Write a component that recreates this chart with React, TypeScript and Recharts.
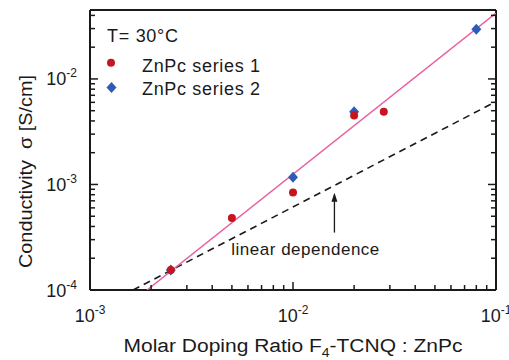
import { ComposedChart, Scatter, XAxis, YAxis } from "recharts";

const W = 509;
const H = 360;
// plot frame in pixels (margins below are derived from it)
const PLOT = { left: 90, right: 496, top: 10, bottom: 290 };
const FONT = '"Liberation Sans", Arial, Helvetica, sans-serif';
const INK = "#1a1a1a";
const RED = "#c8141f";
const BLUE = "#2c5cb8";
const PINK = "#e8609f";

const X_DOMAIN = [1e-3, 1e-1];
const Y_DOMAIN = [1e-4, 4.5e-2];
const X_TICKS = [
  1e-3, 2e-3, 3e-3, 4e-3, 5e-3, 6e-3, 7e-3, 8e-3, 9e-3,
  1e-2, 2e-2, 3e-2, 4e-2, 5e-2, 6e-2, 7e-2, 8e-2, 9e-2, 1e-1,
];
const Y_TICKS = [
  1e-4, 2e-4, 3e-4, 4e-4, 5e-4, 6e-4, 7e-4, 8e-4, 9e-4,
  1e-3, 2e-3, 3e-3, 4e-3, 5e-3, 6e-3, 7e-3, 8e-3, 9e-3,
  1e-2, 2e-2, 3e-2, 4e-2,
];

// measured points
const S1_X = [2.5e-3, 5e-3, 1e-2, 2e-2, 2.8e-2];
const S1_Y = [1.55e-4, 4.8e-4, 8.4e-4, 4.5e-3, 4.9e-3];
const S2_X = [2.5e-3, 1e-2, 2e-2, 8e-2];
const S2_Y = [1.55e-4, 1.17e-3, 4.9e-3, 2.95e-2];

// power-law fit and slope-1 reference
const FIT_X = [1.91e-3, 1e-1];
const FIT_Y = [1e-4, 4.2e-2];
const LIN_X = [1.63e-3, 1e-1];
const LIN_Y = [1e-4, 6.1e-3];

// annotation
const ARROW_X = [1.6e-2, 1.6e-2];
const ARROW_Y = [3.5e-4, 8.0e-4];
const NOTE_X = [1.15e-2];
const NOTE_Y = [2.16e-4];
const NOTE_TEXT = "linear dependence";

const pts = (xs: number[], ys: number[]) => xs.map((x, i) => ({ x, y: ys[i] }));

const isMajor = (v: number) => Math.abs(Math.log10(v) - Math.round(Math.log10(v))) < 1e-6;
const exp = (v: number) => String(Math.round(Math.log10(v)));

function BottomTick(p: any) {
  const v = p.payload.value;
  const major = isMajor(v);
  return (
    <g>
      <line x1={p.x} x2={p.x} y1={PLOT.bottom} y2={PLOT.bottom - (major ? 8 : 5)} stroke={INK} strokeWidth={1.5} />
      {major && (
        <text x={p.x} y={322} textAnchor="middle" fontSize={18} fill={INK} fontFamily={FONT}>
          10
          <tspan dy={-8} fontSize={12}>{exp(v)}</tspan>
        </text>
      )}
    </g>
  );
}

function TopTick(p: any) {
  const major = isMajor(p.payload.value);
  return <line x1={p.x} x2={p.x} y1={PLOT.top} y2={PLOT.top + (major ? 8 : 5)} stroke={INK} strokeWidth={1.5} />;
}

function LeftTick(p: any) {
  const v = p.payload.value;
  const major = isMajor(v);
  return (
    <g>
      <line x1={PLOT.left} x2={PLOT.left + (major ? 8 : 5)} y1={p.y} y2={p.y} stroke={INK} strokeWidth={1.5} />
      {major && (
        <text x={77} y={p.y + 6.5} textAnchor="end" fontSize={18} fill={INK} fontFamily={FONT}>
          10
          <tspan dy={-8} fontSize={12}>{exp(v)}</tspan>
        </text>
      )}
    </g>
  );
}

function RightTick(p: any) {
  const major = isMajor(p.payload.value);
  return <line x1={PLOT.right} x2={PLOT.right - (major ? 8 : 5)} y1={p.y} y2={p.y} stroke={INK} strokeWidth={1.5} />;
}

const Dot = (p: any) => <circle cx={p.cx} cy={p.cy} r={4} fill={RED} />;
const Diamond = (p: any) => (
  <polygon
    points={`${p.cx},${p.cy - 5.5} ${p.cx + 5},${p.cy} ${p.cx},${p.cy + 5.5} ${p.cx - 5},${p.cy}`}
    fill={BLUE}
  />
);
const NoShape = () => <g />;
const ArrowHead = (p: any) =>
  p.payload.y === Math.max(...ARROW_Y) ? (
    <polygon points={`${p.cx},${p.cy - 2} ${p.cx - 3},${p.cy + 7} ${p.cx + 3},${p.cy + 7}`} fill={INK} />
  ) : (
    <g />
  );
const Note = (p: any) => (
  <text x={p.cx} y={p.cy} textAnchor="middle" fontSize={17} fill={INK} fontFamily={FONT} textLength={148}>
    {NOTE_TEXT}
  </text>
);

const XLabel = () => (
  <text
    x={(PLOT.left + PLOT.right) / 2}
    y={351.5}
    textAnchor="middle"
    fontSize={18}
    fill={INK}
    fontFamily={FONT}
    textLength={339}
    lengthAdjust="spacingAndGlyphs"
  >
    Molar Doping Ratio F<tspan dy={5} fontSize={12}>4</tspan>
    <tspan dy={-5}>-TCNQ : ZnPc</tspan>
  </text>
);

const YLabel = () => (
  <text
    x={32}
    y={171.5}
    transform="rotate(-90 32 171.5)"
    textAnchor="middle"
    fontSize={18}
    fill={INK}
    fontFamily={FONT}
    textLength={193}
    lengthAdjust="spacingAndGlyphs"
  >
    {"Conductivity\u00a0\u00a0σ [S/cm]"}
  </text>
);

export default function App() {
  const axisLine = { stroke: INK, strokeWidth: 2 };
  return (
    <div style={{ position: "absolute", left: 0, top: 0, width: W, height: H, background: "#fff" }}>
      <ComposedChart
        width={W}
        height={H}
        margin={{ top: PLOT.top, right: W - PLOT.right, bottom: 0, left: 0 }}
      >
        <XAxis
          xAxisId="b"
          dataKey="x"
          type="number"
          scale="log"
          domain={X_DOMAIN}
          allowDataOverflow
          ticks={X_TICKS}
          interval={0}
          height={H - PLOT.bottom}
          tickLine={false}
          axisLine={axisLine}
          tick={BottomTick}
          label={{ content: XLabel }}
        />
        <XAxis
          xAxisId="t"
          orientation="top"
          mirror
          type="number"
          scale="log"
          domain={X_DOMAIN}
          allowDataOverflow
          ticks={X_TICKS}
          interval={0}
          tickLine={false}
          axisLine={axisLine}
          tick={TopTick}
        />
        <YAxis
          yAxisId="l"
          dataKey="y"
          type="number"
          scale="log"
          domain={Y_DOMAIN}
          allowDataOverflow
          ticks={Y_TICKS}
          interval={0}
          width={PLOT.left}
          tickLine={false}
          axisLine={axisLine}
          tick={LeftTick}
          label={{ content: YLabel }}
        />
        <YAxis
          yAxisId="r"
          orientation="right"
          mirror
          type="number"
          scale="log"
          domain={Y_DOMAIN}
          allowDataOverflow
          ticks={Y_TICKS}
          interval={0}
          tickLine={false}
          axisLine={axisLine}
          tick={RightTick}
        />

        <Scatter
          xAxisId="b"
          yAxisId="l"
          data={pts(LIN_X, LIN_Y)}
          line={{ stroke: INK, strokeWidth: 1.6, strokeDasharray: "7 5", fill: "none" }}
          shape={NoShape}
          isAnimationActive={false}
        />
        <Scatter
          xAxisId="b"
          yAxisId="l"
          data={pts(FIT_X, FIT_Y)}
          line={{ stroke: PINK, strokeWidth: 1.5, fill: "none" }}
          shape={NoShape}
          isAnimationActive={false}
        />
        <Scatter
          xAxisId="b"
          yAxisId="l"
          data={pts(ARROW_X, ARROW_Y)}
          line={{ stroke: INK, strokeWidth: 1.3, fill: "none" }}
          shape={ArrowHead}
          isAnimationActive={false}
        />
        <Scatter xAxisId="b" yAxisId="l" data={pts(NOTE_X, NOTE_Y)} shape={Note} isAnimationActive={false} />
        <Scatter xAxisId="b" yAxisId="l" data={pts(S2_X, S2_Y)} shape={Diamond} isAnimationActive={false} />
        <Scatter xAxisId="b" yAxisId="l" data={pts(S1_X, S1_Y)} shape={Dot} isAnimationActive={false} />
      </ComposedChart>

      <svg
        width={W}
        height={H}
        style={{ position: "absolute", left: 0, top: 0, pointerEvents: "none" }}
        fontFamily={FONT}
        fill={INK}
      >
        <text x={107} y={41.7} fontSize={18} textLength={71}>T= 30°C</text>
        <circle cx={111} cy={62.7} r={4} fill={RED} />
        <text x={142} y={71.7} fontSize={18} textLength={118}>ZnPc series 1</text>
        <polygon points="111.5,82 116.5,87.5 111.5,93 106.5,87.5" fill={BLUE} />
        <text x={142} y={95} fontSize={18} textLength={118}>ZnPc series 2</text>
      </svg>
    </div>
  );
}
